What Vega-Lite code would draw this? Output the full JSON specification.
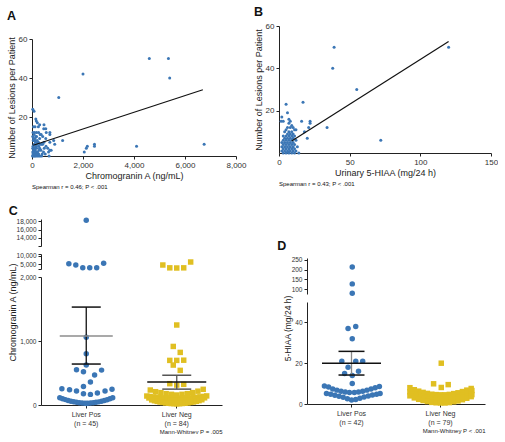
{
"$schema":"https://vega.github.io/schema/vega-lite/v6.json",
"background":"white",
"padding":{"left":7,"top":5,"right":0,"bottom":0},
"config":{
 "font":"Liberation Sans",
 "view":{"stroke":null},
 "axis":{"domainColor":"#222","tickColor":"#222","labelColor":"#333","labelFontSize":8,"titleFontSize":9,"titleFont":"Liberation Sans","titleFontWeight":"normal","titleColor":"#222","tickSize":3,"labelPadding":2,"grid":false,"labelOverlap":false,"labelFlush":false,"titlePadding":2},
 "title":{"fontSize":12.5,"fontWeight":"bold","anchor":"start","frame":"bounds","color":"#111"}
},
"datasets":{
 "A":[{"cga":4600,"les":50},{"cga":5350,"les":50},{"cga":5400,"les":40},{"cga":2000,"les":42},{"cga":1050,"les":30},{"cga":6750,"les":6},{"cga":4100,"les":5},{"cga":2050,"les":2},{"cga":2130,"les":4},{"cga":2170,"les":5},{"cga":2450,"les":6},{"cga":2450,"les":5},{"cga":1200,"les":8},{"cga":890,"les":6},
 {"cga":30,"les":24},{"cga":80,"les":23},{"cga":150,"les":19},{"cga":170,"les":18},{"cga":210,"les":17},{"cga":120,"les":15},{"cga":60,"les":15},{"cga":250,"les":15},{"cga":300,"les":16},{"cga":470,"les":16},{"cga":460,"les":14},{"cga":540,"les":14},{"cga":560,"les":12},{"cga":700,"les":12},{"cga":100,"les":12},{"cga":40,"les":12},{"cga":180,"les":12},{"cga":260,"les":12},{"cga":320,"les":11},{"cga":360,"les":11},{"cga":420,"les":10},{"cga":180,"les":10},{"cga":120,"les":9},{"cga":60,"les":9},{"cga":300,"les":9},{"cga":540,"les":9},{"cga":700,"les":11},{"cga":850,"les":8},{"cga":470,"les":7},{"cga":700,"les":7},{"cga":250,"les":7},{"cga":140,"les":7},{"cga":90,"les":6},{"cga":200,"les":6},{"cga":330,"les":6},{"cga":380,"les":6},{"cga":420,"les":6},{"cga":550,"les":5},{"cga":150,"les":5},{"cga":40,"les":5},{"cga":260,"les":5},{"cga":300,"les":4},{"cga":480,"les":4},{"cga":620,"les":4},{"cga":750,"les":3},{"cga":700,"les":3},{"cga":650,"les":2},{"cga":120,"les":3},{"cga":60,"les":3},{"cga":180,"les":2},{"cga":220,"les":2},{"cga":30,"les":2},{"cga":100,"les":1},{"cga":260,"les":1},{"cga":400,"les":1},{"cga":670,"les":0},{"cga":20,"les":0},{"cga":60,"les":0},{"cga":100,"les":0},{"cga":140,"les":0},{"cga":200,"les":0},{"cga":260,"les":0},{"cga":320,"les":0},{"cga":380,"les":0},{"cga":40,"les":1},{"cga":80,"les":1},{"cga":150,"les":1},{"cga":200,"les":1},{"cga":30,"les":4},{"cga":70,"les":4},{"cga":120,"les":4},{"cga":180,"les":4},{"cga":50,"les":8},{"cga":100,"les":8},{"cga":150,"les":10},{"cga":30,"les":10},{"cga":80,"les":11},{"cga":200,"les":8},{"cga":350,"les":3},{"cga":280,"les":3},{"cga":450,"les":2},{"cga":520,"les":1},{"cga":80,"les":2},{"cga":130,"les":2}],
 "Afit":[{"cga":50,"les":5.5},{"cga":6700,"les":34}],
 "B":[{"hiaa":39,"les":50},{"hiaa":38,"les":40},{"hiaa":55,"les":30},{"hiaa":120,"les":50},{"hiaa":72,"les":6},{"hiaa":17,"les":24},{"hiaa":16,"les":15},{"hiaa":22,"les":15},{"hiaa":22,"les":14},{"hiaa":21,"les":12},{"hiaa":18,"les":10},{"hiaa":20,"les":7},{"hiaa":34,"les":12},
 {"hiaa":5,"les":23},{"hiaa":6,"les":19},{"hiaa":2,"les":17},{"hiaa":1.5,"les":15},{"hiaa":7,"les":16},{"hiaa":8,"les":15},{"hiaa":3,"les":15},{"hiaa":7,"les":14},{"hiaa":9,"les":13},{"hiaa":6,"les":12},{"hiaa":8,"les":12},{"hiaa":10,"les":12},{"hiaa":12,"les":11},{"hiaa":5,"les":11},{"hiaa":11,"les":11},{"hiaa":7,"les":10},{"hiaa":9,"les":10},{"hiaa":4,"les":10},{"hiaa":6,"les":9},{"hiaa":8,"les":9},{"hiaa":10,"les":9},{"hiaa":3,"les":8},{"hiaa":5,"les":8},{"hiaa":7,"les":8},{"hiaa":9,"les":8},{"hiaa":11,"les":8},{"hiaa":4,"les":7},{"hiaa":6,"les":7},{"hiaa":8,"les":7},{"hiaa":10,"les":7},{"hiaa":3,"les":6},{"hiaa":5,"les":6},{"hiaa":7,"les":6},{"hiaa":9,"les":6},{"hiaa":12,"les":6},{"hiaa":2,"les":5},{"hiaa":4,"les":5},{"hiaa":6,"les":5},{"hiaa":8,"les":5},{"hiaa":10,"les":5},{"hiaa":3,"les":4},{"hiaa":5,"les":4},{"hiaa":7,"les":4},{"hiaa":9,"les":4},{"hiaa":11,"les":4},{"hiaa":2,"les":3},{"hiaa":4,"les":3},{"hiaa":6,"les":3},{"hiaa":8,"les":3},{"hiaa":10,"les":3},{"hiaa":13,"les":3},{"hiaa":3,"les":2},{"hiaa":5,"les":2},{"hiaa":7,"les":2},{"hiaa":9,"les":2},{"hiaa":11,"les":2},{"hiaa":2,"les":1},{"hiaa":4,"les":1},{"hiaa":6,"les":1},{"hiaa":8,"les":1},{"hiaa":10,"les":1},{"hiaa":12,"les":1},{"hiaa":3,"les":0},{"hiaa":5,"les":0},{"hiaa":7,"les":0},{"hiaa":9,"les":0},{"hiaa":11,"les":0},{"hiaa":14,"les":0},{"hiaa":6.5,"les":0.5}],
 "Bfit":[{"hiaa":9,"les":5.7},{"hiaa":120,"les":52.7}],
 "C":[{"g":"Liver Pos","v":18300,"s":0},
 {"g":"Liver Pos","v":5200,"s":-2.5},{"g":"Liver Pos","v":4400,"s":-1.5},{"g":"Liver Pos","v":2800,"s":-0.5},{"g":"Liver Pos","v":2800,"s":0.5},{"g":"Liver Pos","v":2800,"s":1.5},{"g":"Liver Pos","v":5400,"s":2.5},
 {"g":"Liver Pos","v":1060,"s":0},{"g":"Liver Pos","v":800,"s":0},{"g":"Liver Pos","v":625,"s":0},{"g":"Liver Pos","v":550,"s":-1.4},{"g":"Liver Pos","v":520,"s":-0.4},{"g":"Liver Pos","v":470,"s":1.2},{"g":"Liver Pos","v":545,"s":2.2},{"g":"Liver Pos","v":360,"s":0.6},{"g":"Liver Pos","v":290,"s":-0.4},{"g":"Liver Pos","v":255,"s":-3.5},{"g":"Liver Pos","v":240,"s":-2.4},{"g":"Liver Pos","v":220,"s":-1.4},{"g":"Liver Pos","v":177,"s":-0.4},{"g":"Liver Pos","v":166,"s":0.6},{"g":"Liver Pos","v":187,"s":1.6},{"g":"Liver Pos","v":220,"s":2.7},{"g":"Liver Pos","v":245,"s":3.7},
 {"g":"Liver Pos","v":115,"s":-3.8},{"g":"Liver Pos","v":98,"s":-3.4},{"g":"Liver Pos","v":84,"s":-3.0},{"g":"Liver Pos","v":71,"s":-2.6},{"g":"Liver Pos","v":59,"s":-2.2},{"g":"Liver Pos","v":50,"s":-1.8},{"g":"Liver Pos","v":42,"s":-1.4},{"g":"Liver Pos","v":35,"s":-1.0},{"g":"Liver Pos","v":31,"s":-0.6},{"g":"Liver Pos","v":28,"s":-0.2},{"g":"Liver Pos","v":22,"s":0},{"g":"Liver Pos","v":29,"s":0.2},{"g":"Liver Pos","v":32,"s":0.6},{"g":"Liver Pos","v":36,"s":1.0},{"g":"Liver Pos","v":43,"s":1.4},{"g":"Liver Pos","v":49,"s":1.8},{"g":"Liver Pos","v":60,"s":2.2},{"g":"Liver Pos","v":70,"s":2.6},{"g":"Liver Pos","v":83,"s":3.0},{"g":"Liver Pos","v":97,"s":3.4},{"g":"Liver Pos","v":112,"s":3.8},
 {"g":"Liver Neg","v":4400,"s":-2},{"g":"Liver Neg","v":2700,"s":-1},{"g":"Liver Neg","v":2600,"s":0},{"g":"Liver Neg","v":2700,"s":1},{"g":"Liver Neg","v":6200,"s":2},
 {"g":"Liver Neg","v":1250,"s":0},{"g":"Liver Neg","v":915,"s":-0.5},{"g":"Liver Neg","v":822,"s":0.5},{"g":"Liver Neg","v":697,"s":-1},{"g":"Liver Neg","v":697,"s":0},{"g":"Liver Neg","v":700,"s":1},{"g":"Liver Neg","v":624,"s":-0.5},{"g":"Liver Neg","v":541,"s":0.5},{"g":"Liver Neg","v":333,"s":-1},{"g":"Liver Neg","v":312,"s":0},{"g":"Liver Neg","v":323,"s":1},
 {"g":"Liver Neg","v":234,"s":-3.8},{"g":"Liver Neg","v":208,"s":-3.04},{"g":"Liver Neg","v":193,"s":-2.28},{"g":"Liver Neg","v":177,"s":-1.52},{"g":"Liver Neg","v":167,"s":-0.76},{"g":"Liver Neg","v":156,"s":0},{"g":"Liver Neg","v":167,"s":0.76},{"g":"Liver Neg","v":177,"s":1.52},{"g":"Liver Neg","v":193,"s":2.28},{"g":"Liver Neg","v":216,"s":3.04},{"g":"Liver Neg","v":245,"s":3.8},
 {"g":"Liver Neg","v":140,"s":-4.3},{"g":"Liver Neg","v":133,"s":-3.82},{"g":"Liver Neg","v":126,"s":-3.34},{"g":"Liver Neg","v":121,"s":-2.87},{"g":"Liver Neg","v":116,"s":-2.39},{"g":"Liver Neg","v":112,"s":-1.91},{"g":"Liver Neg","v":109,"s":-1.43},{"g":"Liver Neg","v":107,"s":-0.96},{"g":"Liver Neg","v":105,"s":-0.48},{"g":"Liver Neg","v":104,"s":0},{"g":"Liver Neg","v":106,"s":0.48},{"g":"Liver Neg","v":107,"s":0.96},{"g":"Liver Neg","v":110,"s":1.43},{"g":"Liver Neg","v":112,"s":1.91},{"g":"Liver Neg","v":117,"s":2.39},{"g":"Liver Neg","v":121,"s":2.87},{"g":"Liver Neg","v":127,"s":3.34},{"g":"Liver Neg","v":134,"s":3.82},{"g":"Liver Neg","v":142,"s":4.3},
 {"g":"Liver Neg","v":110,"s":-4},{"g":"Liver Neg","v":102,"s":-3.56},{"g":"Liver Neg","v":95,"s":-3.11},{"g":"Liver Neg","v":88,"s":-2.67},{"g":"Liver Neg","v":83,"s":-2.22},{"g":"Liver Neg","v":78,"s":-1.78},{"g":"Liver Neg","v":74,"s":-1.33},{"g":"Liver Neg","v":72,"s":-0.89},{"g":"Liver Neg","v":70,"s":-0.44},{"g":"Liver Neg","v":69,"s":0},{"g":"Liver Neg","v":71,"s":0.44},{"g":"Liver Neg","v":72,"s":0.89},{"g":"Liver Neg","v":75,"s":1.33},{"g":"Liver Neg","v":78,"s":1.78},{"g":"Liver Neg","v":83,"s":2.22},{"g":"Liver Neg","v":88,"s":2.67},{"g":"Liver Neg","v":94,"s":3.11},{"g":"Liver Neg","v":102,"s":3.56},{"g":"Liver Neg","v":112,"s":4},
 {"g":"Liver Neg","v":80,"s":-3.6},{"g":"Liver Neg","v":67,"s":-3.2},{"g":"Liver Neg","v":56,"s":-2.8},{"g":"Liver Neg","v":47,"s":-2.4},{"g":"Liver Neg","v":39,"s":-2},{"g":"Liver Neg","v":32,"s":-1.6},{"g":"Liver Neg","v":27,"s":-1.2},{"g":"Liver Neg","v":23,"s":-0.8},{"g":"Liver Neg","v":21,"s":-0.4},{"g":"Liver Neg","v":18,"s":0},{"g":"Liver Neg","v":21,"s":0.4},{"g":"Liver Neg","v":24,"s":0.8},{"g":"Liver Neg","v":28,"s":1.2},{"g":"Liver Neg","v":33,"s":1.6},{"g":"Liver Neg","v":40,"s":2},{"g":"Liver Neg","v":48,"s":2.4},{"g":"Liver Neg","v":57,"s":2.8},{"g":"Liver Neg","v":68,"s":3.2},{"g":"Liver Neg","v":82,"s":3.6}],
 "Cstat":[{"g":"Liver Pos","kind":"mean","v":1080},{"g":"Liver Pos","kind":"cap","v":640},{"g":"Liver Pos","kind":"cap","v":1530},{"g":"Liver Pos","kind":"range","v":640,"v2":1530},{"g":"Liver Neg","kind":"mean","v":360},{"g":"Liver Neg","kind":"cap","v":248},{"g":"Liver Neg","kind":"cap","v":465},{"g":"Liver Neg","kind":"range","v":248,"v2":465}],
 "D":[{"g":"Liver Pos","v":214,"s":0},{"g":"Liver Pos","v":127,"s":0},{"g":"Liver Pos","v":79,"s":0},
 {"g":"Liver Pos","v":38,"s":0.5},{"g":"Liver Pos","v":37,"s":-0.6},{"g":"Liver Pos","v":32,"s":0},{"g":"Liver Pos","v":21,"s":-1.5},{"g":"Liver Pos","v":21,"s":0.5},{"g":"Liver Pos","v":21,"s":1.5},{"g":"Liver Pos","v":18,"s":-0.6},{"g":"Liver Pos","v":15,"s":-1.1},{"g":"Liver Pos","v":16,"s":0.9},{"g":"Liver Pos","v":14,"s":0},{"g":"Liver Pos","v":10,"s":0},
 {"g":"Liver Pos","v":8.8,"s":-4.0},{"g":"Liver Pos","v":8.3,"s":-3.4},{"g":"Liver Pos","v":7.4,"s":-2.8},{"g":"Liver Pos","v":6.8,"s":-2.2},{"g":"Liver Pos","v":6.3,"s":-1.6},{"g":"Liver Pos","v":5.9,"s":-1.0},{"g":"Liver Pos","v":5.6,"s":-0.4},{"g":"Liver Pos","v":5.6,"s":0.3},{"g":"Liver Pos","v":5.9,"s":0.9},{"g":"Liver Pos","v":6.3,"s":1.5},{"g":"Liver Pos","v":6.8,"s":2.1},{"g":"Liver Pos","v":7.3,"s":2.7},{"g":"Liver Pos","v":8.0,"s":3.3},{"g":"Liver Pos","v":8.6,"s":3.9},
 {"g":"Liver Pos","v":5.2,"s":-3.7},{"g":"Liver Pos","v":4.8,"s":-3.1},{"g":"Liver Pos","v":4.3,"s":-2.5},{"g":"Liver Pos","v":3.8,"s":-1.9},{"g":"Liver Pos","v":3.3,"s":-1.3},{"g":"Liver Pos","v":2.6,"s":-0.7},{"g":"Liver Pos","v":2.0,"s":-0.1},{"g":"Liver Pos","v":2.2,"s":0.5},{"g":"Liver Pos","v":2.8,"s":1.1},{"g":"Liver Pos","v":3.4,"s":1.7},{"g":"Liver Pos","v":3.9,"s":2.3},{"g":"Liver Pos","v":4.4,"s":2.9},{"g":"Liver Pos","v":4.8,"s":3.5},{"g":"Liver Pos","v":5.1,"s":4.0},
 {"g":"Liver Neg","v":20,"s":0},{"g":"Liver Neg","v":9.9,"s":-1.1},{"g":"Liver Neg","v":8.1,"s":0},{"g":"Liver Neg","v":9.5,"s":1.0},
 {"g":"Liver Neg","v":8.0,"s":-4.5},{"g":"Liver Neg","v":7.0,"s":-3.87},{"g":"Liver Neg","v":6.3,"s":-3.24},{"g":"Liver Neg","v":5.7,"s":-2.61},{"g":"Liver Neg","v":5.2,"s":-1.99},{"g":"Liver Neg","v":4.8,"s":-1.36},{"g":"Liver Neg","v":4.6,"s":-0.73},{"g":"Liver Neg","v":4.5,"s":-0.1},{"g":"Liver Neg","v":4.5,"s":0.53},{"g":"Liver Neg","v":4.7,"s":1.16},{"g":"Liver Neg","v":5.1,"s":1.79},{"g":"Liver Neg","v":5.5,"s":2.41},{"g":"Liver Neg","v":6.1,"s":3.04},{"g":"Liver Neg","v":6.8,"s":3.67},{"g":"Liver Neg","v":7.6,"s":4.3},
 {"g":"Liver Neg","v":7.0,"s":-4.3},{"g":"Liver Neg","v":6.0,"s":-3.6},{"g":"Liver Neg","v":5.3,"s":-2.9},{"g":"Liver Neg","v":4.7,"s":-2.3},{"g":"Liver Neg","v":4.2,"s":-1.7},{"g":"Liver Neg","v":3.8,"s":-1.1},{"g":"Liver Neg","v":3.6,"s":-0.4},{"g":"Liver Neg","v":3.5,"s":0.2},{"g":"Liver Neg","v":3.5,"s":0.8},{"g":"Liver Neg","v":3.7,"s":1.4},{"g":"Liver Neg","v":4.1,"s":2.0},{"g":"Liver Neg","v":4.5,"s":2.6},{"g":"Liver Neg","v":5.1,"s":3.2},{"g":"Liver Neg","v":5.8,"s":3.8},{"g":"Liver Neg","v":6.6,"s":4.4},
 {"g":"Liver Neg","v":6.0,"s":-4.5},{"g":"Liver Neg","v":5.0,"s":-3.87},{"g":"Liver Neg","v":4.3,"s":-3.24},{"g":"Liver Neg","v":3.7,"s":-2.61},{"g":"Liver Neg","v":3.2,"s":-1.99},{"g":"Liver Neg","v":2.8,"s":-1.36},{"g":"Liver Neg","v":2.6,"s":-0.73},{"g":"Liver Neg","v":2.5,"s":-0.1},{"g":"Liver Neg","v":2.5,"s":0.53},{"g":"Liver Neg","v":2.7,"s":1.16},{"g":"Liver Neg","v":3.1,"s":1.79},{"g":"Liver Neg","v":3.5,"s":2.41},{"g":"Liver Neg","v":4.1,"s":3.04},{"g":"Liver Neg","v":4.8,"s":3.67},{"g":"Liver Neg","v":5.6,"s":4.3},
 {"g":"Liver Neg","v":5.0,"s":-4.3},{"g":"Liver Neg","v":4.0,"s":-3.6},{"g":"Liver Neg","v":3.3,"s":-2.9},{"g":"Liver Neg","v":2.7,"s":-2.3},{"g":"Liver Neg","v":2.2,"s":-1.7},{"g":"Liver Neg","v":1.8,"s":-1.1},{"g":"Liver Neg","v":1.6,"s":-0.4},{"g":"Liver Neg","v":1.5,"s":0.2},{"g":"Liver Neg","v":1.5,"s":0.8},{"g":"Liver Neg","v":1.7,"s":1.4},{"g":"Liver Neg","v":2.1,"s":2.0},{"g":"Liver Neg","v":2.5,"s":2.6},{"g":"Liver Neg","v":3.1,"s":3.2},{"g":"Liver Neg","v":3.8,"s":3.8},{"g":"Liver Neg","v":4.6,"s":4.4},
 {"g":"Liver Neg","v":4.0,"s":-4.5},{"g":"Liver Neg","v":3.0,"s":-3.87},{"g":"Liver Neg","v":2.3,"s":-3.24},{"g":"Liver Neg","v":1.7,"s":-2.61},{"g":"Liver Neg","v":1.2,"s":-1.99},{"g":"Liver Neg","v":0.8,"s":-1.36},{"g":"Liver Neg","v":0.6,"s":-0.73},{"g":"Liver Neg","v":0.5,"s":-0.1},{"g":"Liver Neg","v":0.5,"s":0.53},{"g":"Liver Neg","v":0.7,"s":1.16},{"g":"Liver Neg","v":1.1,"s":1.79},{"g":"Liver Neg","v":1.5,"s":2.41},{"g":"Liver Neg","v":2.1,"s":3.04},{"g":"Liver Neg","v":2.8,"s":3.67},{"g":"Liver Neg","v":3.6,"s":4.3}],
 "Dstat":[{"g":"Liver Pos","kind":"mean","v":20},{"g":"Liver Pos","kind":"cap","v":14.2},{"g":"Liver Pos","kind":"cap","v":25.8},{"g":"Liver Pos","kind":"range","v":14.2,"v2":25.8}]
},
"spacing":14,
"vconcat":[
 {"spacing":7,"hconcat":[
  {"title":{"text":"A","offset":4},"bounds":"flush","spacing":8,"vconcat":[
   {"width":204,"height":5,"data":{"values":[]},"mark":"point","encoding":{}},
   {"width":204,"height":117,
   "title":{"text":"Spearman r = 0.46; P < .001","orient":"bottom","anchor":"start","frame":"group","fontSize":6,"fontWeight":"normal","offset":4},
   "layer":[
    {"data":{"name":"A"},"mark":{"type":"circle","size":9,"color":"#3b76b5","opacity":1},
     "encoding":{"x":{"field":"cga","type":"quantitative","scale":{"domain":[0,8000],"nice":false},"axis":{"values":[0,2000,4000,6000,8000],"format":",.0f","title":"Chromogranin A (ng/mL)"}},
      "y":{"field":"les","type":"quantitative","scale":{"domain":[0,60],"nice":false},"axis":{"values":[20,40,60],"title":"Number of Lesions per Patient"}}}},
    {"data":{"name":"Afit"},"mark":{"type":"line","color":"#111","strokeWidth":1.2},
     "encoding":{"x":{"field":"cga","type":"quantitative"},"y":{"field":"les","type":"quantitative"}}}
   ]}]},
  {"title":{"text":"B","offset":4},"vconcat":[{
   "width":212,"height":127,
   "title":{"text":"Spearman r = 0.43; P < .001","orient":"bottom","anchor":"start","frame":"group","fontSize":6,"fontWeight":"normal","offset":4},
   "layer":[
    {"data":{"name":"B"},"mark":{"type":"circle","size":9,"color":"#3b76b5","opacity":1},
     "encoding":{"x":{"field":"hiaa","type":"quantitative","scale":{"domain":[0,150],"nice":false},"axis":{"values":[0,50,100,150],"title":"Urinary 5-HIAA (mg/24 h)"}},
      "y":{"field":"les","type":"quantitative","scale":{"domain":[0,60],"nice":false},"axis":{"values":[20,40,60],"title":"Number of Lesions per Patient"}}}},
    {"data":{"name":"Bfit"},"mark":{"type":"line","color":"#111","strokeWidth":1.2},
     "encoding":{"x":{"field":"hiaa","type":"quantitative"},"y":{"field":"les","type":"quantitative"}}}
   ]}]}
 ]},
 {"spacing":55,"hconcat":[
  {"bounds":"flush","spacing":8,"hconcat":[
   {"width":1,"height":1,"data":{"values":[]},"mark":"point","encoding":{}},
   {"title":{"text":"C","offset":0},"bounds":"flush","spacing":8,"vconcat":[
   {"width":181,"height":27,"data":{"name":"C"},"transform":[{"filter":"datum.v >= 12000"}],
    "mark":{"type":"point","filled":true,"size":30,"opacity":1},
    "encoding":{"x":{"field":"g","type":"nominal","scale":{"domain":["Liver Pos","Liver Neg"],"paddingInner":0,"paddingOuter":0},"axis":null},
     "xOffset":{"field":"s","type":"quantitative","scale":{"domain":[-6.5,6.5]}},
     "y":{"field":"v","type":"quantitative","scale":{"domain":[12000,18600],"nice":false},"axis":{"values":[12000,14000,16000,18000],"labelFontSize":6.5,"labelExpr":"datum.value == 12000 ? '' : format(datum.value, ',')","title":null}},
     "color":{"field":"g","type":"nominal","scale":{"domain":["Liver Pos","Liver Neg"],"range":["#3b76b5","#e0bf22"]},"legend":null},
     "shape":{"field":"g","type":"nominal","scale":{"domain":["Liver Pos","Liver Neg"],"range":["circle","square"]},"legend":null}}},
   {"width":181,"height":15,"data":{"name":"C"},"transform":[{"filter":"datum.v > 2000 && datum.v < 12000"}],
    "mark":{"type":"point","filled":true,"size":30,"opacity":1},
    "encoding":{"x":{"field":"g","type":"nominal","scale":{"domain":["Liver Pos","Liver Neg"],"paddingInner":0,"paddingOuter":0},"axis":null},
     "xOffset":{"field":"s","type":"quantitative","scale":{"domain":[-6.5,6.5]}},
     "y":{"field":"v","type":"quantitative","scale":{"domain":[2000,11000],"nice":false},"axis":{"values":[2000,5000,10000,11000],"labelFontSize":6.5,"labelExpr":"datum.value == 5000 || datum.value == 10000 ? format(datum.value, ',') : ''","title":null}},
     "color":{"field":"g","type":"nominal","scale":{"domain":["Liver Pos","Liver Neg"],"range":["#3b76b5","#e0bf22"]},"legend":null},
     "shape":{"field":"g","type":"nominal","scale":{"domain":["Liver Pos","Liver Neg"],"range":["circle","square"]},"legend":null}}},
   {"width":181,"height":128,"layer":[
    {"data":{"name":"C"},"transform":[{"filter":"datum.v <= 2000"}],
     "mark":{"type":"point","filled":true,"size":30,"opacity":1},
     "encoding":{"x":{"field":"g","type":"nominal","scale":{"domain":["Liver Pos","Liver Neg"],"paddingInner":0,"paddingOuter":0},
       "axis":{"labelAngle":0,"labelFontSize":7,"labelExpr":"datum.value == 'Liver Pos' ? ['Liver Pos', '(n = 45)'] : ['Liver Neg', '(n = 84)']","labelLineHeight":9,"title":"Mann-Whitney P = .005","titleAnchor":"end","titleFontSize":6,"labelPadding":2,"titlePadding":2}},
      "xOffset":{"field":"s","type":"quantitative","scale":{"domain":[-6.5,6.5]}},
      "y":{"field":"v","type":"quantitative","scale":{"domain":[0,2000],"nice":false},"axis":{"values":[0,500,1000,1500,2000],"labelFontSize":6.5,"format":",.0f","title":"Chromogranin A (ng/mL)","titleY":35}},
      "color":{"field":"g","type":"nominal","scale":{"domain":["Liver Pos","Liver Neg"],"range":["#3b76b5","#e0bf22"]},"legend":null},
      "shape":{"field":"g","type":"nominal","scale":{"domain":["Liver Pos","Liver Neg"],"range":["circle","square"]},"legend":null}}},
    {"data":{"name":"Cstat"},"transform":[{"filter":"datum.kind == 'range' && datum.g == 'Liver Pos'"}],"mark":{"type":"rule","color":"#111","strokeWidth":1.3},
     "encoding":{"x":{"field":"g","type":"nominal","scale":{"domain":["Liver Pos","Liver Neg"],"paddingInner":0,"paddingOuter":0}},"y":{"field":"v","type":"quantitative","scale":{"domain":[0,2000],"nice":false}},"y2":{"field":"v2"}}},
    {"data":{"name":"Cstat"},"transform":[{"filter":"datum.kind == 'range' && datum.g == 'Liver Neg'"}],"mark":{"type":"rule","color":"#555","strokeWidth":1.3},
     "encoding":{"x":{"field":"g","type":"nominal","scale":{"domain":["Liver Pos","Liver Neg"],"paddingInner":0,"paddingOuter":0}},"y":{"field":"v","type":"quantitative","scale":{"domain":[0,2000],"nice":false}},"y2":{"field":"v2"}}},
    {"data":{"name":"Cstat"},"transform":[{"filter":"datum.kind == 'mean' && datum.g == 'Liver Pos'"}],"mark":{"type":"tick","color":"#8c8c8c","size":53,"thickness":1.5,"opacity":1},
     "encoding":{"x":{"field":"g","type":"nominal","scale":{"domain":["Liver Pos","Liver Neg"],"paddingInner":0,"paddingOuter":0}},"y":{"field":"v","type":"quantitative","scale":{"domain":[0,2000],"nice":false}}}},
    {"data":{"name":"Cstat"},"transform":[{"filter":"datum.kind == 'mean' && datum.g == 'Liver Neg'"}],"mark":{"type":"tick","color":"#111","size":59,"thickness":1.5,"opacity":1},
     "encoding":{"x":{"field":"g","type":"nominal","scale":{"domain":["Liver Pos","Liver Neg"],"paddingInner":0,"paddingOuter":0}},"y":{"field":"v","type":"quantitative","scale":{"domain":[0,2000],"nice":false}}}},
    {"data":{"name":"Cstat"},"transform":[{"filter":"datum.kind == 'cap' && datum.g == 'Liver Pos'"}],"mark":{"type":"tick","color":"#111","size":29,"thickness":1.5,"opacity":1},
     "encoding":{"x":{"field":"g","type":"nominal","scale":{"domain":["Liver Pos","Liver Neg"],"paddingInner":0,"paddingOuter":0}},"y":{"field":"v","type":"quantitative","scale":{"domain":[0,2000],"nice":false}}}},
    {"data":{"name":"Cstat"},"transform":[{"filter":"datum.kind == 'cap' && datum.g == 'Liver Neg'"}],"mark":{"type":"tick","color":"#555","size":29,"thickness":1.5,"opacity":1},
     "encoding":{"x":{"field":"g","type":"nominal","scale":{"domain":["Liver Pos","Liver Neg"],"paddingInner":0,"paddingOuter":0}},"y":{"field":"v","type":"quantitative","scale":{"domain":[0,2000],"nice":false}}}}
   ]}
  ]}]},
  {"bounds":"flush","spacing":8,"vconcat":[
   {"width":178,"height":31,"data":{"values":[]},"mark":"point","encoding":{}},
   {"width":178,"height":36,"title":{"text":"D","dx":-14,"offset":4},"data":{"name":"D"},"transform":[{"filter":"datum.v > 60"}],
    "mark":{"type":"point","filled":true,"size":30,"opacity":1},
    "encoding":{"x":{"field":"g","type":"nominal","scale":{"domain":["Liver Pos","Liver Neg"],"paddingInner":0,"paddingOuter":0},"axis":null},
     "xOffset":{"field":"s","type":"quantitative","scale":{"domain":[-6.4,6.4]}},
     "y":{"field":"v","type":"quantitative","scale":{"domain":[75,260],"nice":false},"axis":{"values":[100,150,200,250],"labelFontSize":6.5,"title":null}},
     "color":{"field":"g","type":"nominal","scale":{"domain":["Liver Pos","Liver Neg"],"range":["#3b76b5","#e0bf22"]},"legend":null},
     "shape":{"field":"g","type":"nominal","scale":{"domain":["Liver Pos","Liver Neg"],"range":["circle","square"]},"legend":null}}},
   {"width":178,"height":102,"layer":[
    {"data":{"name":"D"},"transform":[{"filter":"datum.v <= 60"}],
     "mark":{"type":"point","filled":true,"size":30,"opacity":1},
     "encoding":{"x":{"field":"g","type":"nominal","scale":{"domain":["Liver Pos","Liver Neg"],"paddingInner":0,"paddingOuter":0},
       "axis":{"labelAngle":0,"labelFontSize":7,"labelExpr":"datum.value == 'Liver Pos' ? ['Liver Pos', '(n = 42)'] : ['Liver Neg', '(n = 79)']","labelLineHeight":9,"title":"Mann-Whitney P < .001","titleAnchor":"end","titleFontSize":6,"labelPadding":2,"titlePadding":2}},
      "xOffset":{"field":"s","type":"quantitative","scale":{"domain":[-6.4,6.4]}},
      "y":{"field":"v","type":"quantitative","scale":{"domain":[0,50],"nice":false},"axis":{"values":[0,10,20,30,40,50],"labelFontSize":6.5,"title":"5-HIAA (mg/24 h)","titleFontSize":8.5,"titleY":26}},
      "color":{"field":"g","type":"nominal","scale":{"domain":["Liver Pos","Liver Neg"],"range":["#3b76b5","#e0bf22"]},"legend":null},
      "shape":{"field":"g","type":"nominal","scale":{"domain":["Liver Pos","Liver Neg"],"range":["circle","square"]},"legend":null}}},
    {"data":{"name":"Dstat"},"transform":[{"filter":"datum.kind == 'range'"}],"mark":{"type":"rule","color":"#888","strokeWidth":1.3},
     "encoding":{"x":{"field":"g","type":"nominal","scale":{"domain":["Liver Pos","Liver Neg"],"paddingInner":0,"paddingOuter":0}},"y":{"field":"v","type":"quantitative","scale":{"domain":[0,50],"nice":false}},"y2":{"field":"v2"}}},
    {"data":{"name":"Dstat"},"transform":[{"filter":"datum.kind == 'mean'"}],"mark":{"type":"tick","color":"#111","size":59,"thickness":1.5,"opacity":1},
     "encoding":{"x":{"field":"g","type":"nominal","scale":{"domain":["Liver Pos","Liver Neg"],"paddingInner":0,"paddingOuter":0}},"y":{"field":"v","type":"quantitative","scale":{"domain":[0,50],"nice":false}}}},
    {"data":{"name":"Dstat"},"transform":[{"filter":"datum.kind == 'cap'"}],"mark":{"type":"tick","color":"#111","size":26,"thickness":1.5,"opacity":1},
     "encoding":{"x":{"field":"g","type":"nominal","scale":{"domain":["Liver Pos","Liver Neg"],"paddingInner":0,"paddingOuter":0}},"y":{"field":"v","type":"quantitative","scale":{"domain":[0,50],"nice":false}}}}
   ]}
  ]}
 ]}
]
}
